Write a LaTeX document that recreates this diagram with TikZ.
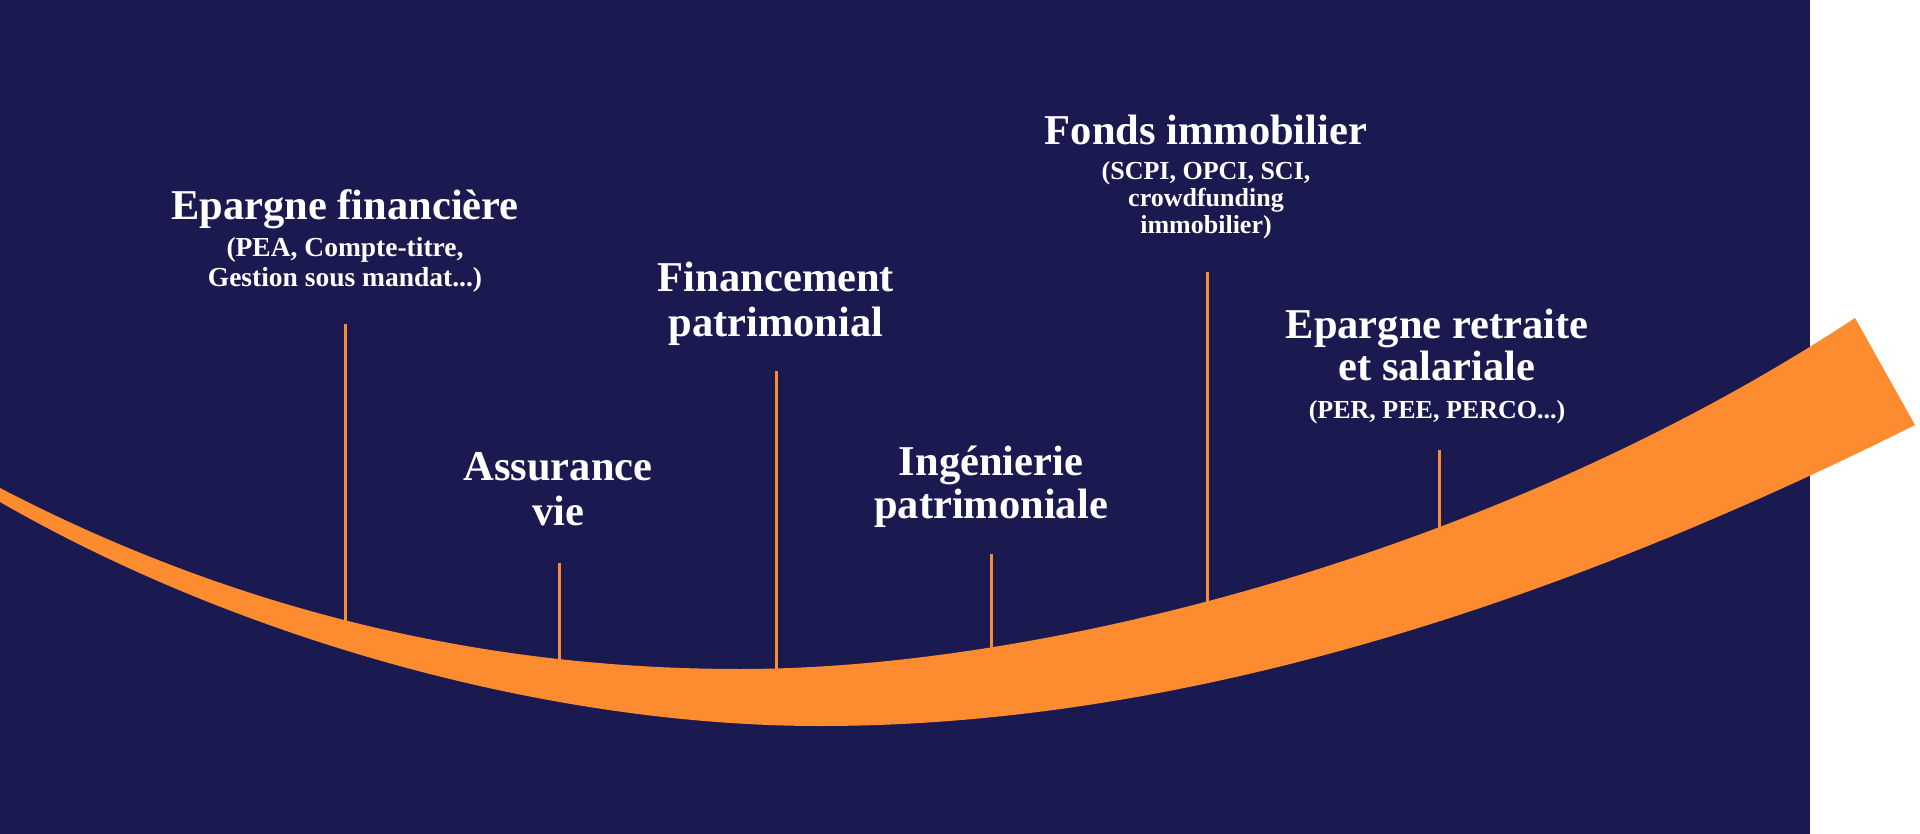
\documentclass[tikz,border=0pt]{standalone}
\usepackage{fontspec}
\setmainfont{Liberation Serif}
\definecolor{navy}{HTML}{1B1A50}
\definecolor{band}{HTML}{FD8B30}
\tikzset{
  head/.style={anchor=base, text=white, inner sep=0pt, font=\fontsize{42.5}{44}\selectfont\bfseries},
  sub/.style={anchor=base, text=white, inner sep=0pt, font=\fontsize{26}{28}\selectfont\bfseries},
  subwide/.style={sub, font=\fontsize{27.5}{29}\selectfont\bfseries},
  tick/.style={draw=band, line width=3pt}
}
\begin{document}
\begin{tikzpicture}[x=1pt,y=-1pt]
\useasboundingbox (0,0) rectangle (1920,834);
\fill[white] (0,0) rectangle (1920,834);
\fill[navy] (0,0) rectangle (1810,834);
% ticks
\coordinate (t1) at (345,324); \coordinate (b1) at (345,640);
\coordinate (t2) at (559,563); \coordinate (b2) at (559,680);
\coordinate (t3) at (776,371); \coordinate (b3) at (776,690);
\coordinate (t4) at (991,554); \coordinate (b4) at (991,670);
\coordinate (t5) at (1207,272); \coordinate (b5) at (1207,625);
\coordinate (t6) at (1439,450); \coordinate (b6) at (1439,550);
\foreach \i in {1,...,6} { \draw[tick] (t\i) -- (b\i); }
% band
\fill[band] (0,488) .. controls (250,618) and (500,669) .. (740,669)
  .. controls (1050,669) and (1505,549) .. (1855,318)
  -- (1915,425)
  .. controls (1515,625) and (1150,726) .. (820,726)
  .. controls (550,726) and (240,640) .. (0,502) -- cycle;
% labels
\node[head] (h1) at (345,220) {Epargne financière};
\node[subwide] (s1a) at (345,257) {(PEA, Compte-titre,};
\node[subwide] (s1b) at (345,287) {Gestion sous mandat...)};
\node[head] (h2a) at (558,480) {Assurance};
\node[head] (h2b) at (558,525) {vie};
\node[head] (h3a) at (776,292) {Financement};
\node[head] (h3b) at (776,337) {patrimonial};
\node[head] (h4a) at (991,475) {Ingénierie};
\node[head] (h4b) at (991,518) {patrimoniale};
\node[head] (h5) at (1206,145) {Fonds immobilier};
\node[sub] (s5a) at (1206,180) {(SCPI, OPCI, SCI,};
\node[sub] (s5b) at (1206,207) {crowdfunding};
\node[sub] (s5c) at (1206,234) {immobilier)};
\node[head] (h6a) at (1437,338) {Epargne retraite};
\node[head] (h6b) at (1437,381) {et salariale};
\node[sub] (s6) at (1437,418) {(PER, PEE, PERCO...)};
\end{tikzpicture}
\end{document}
